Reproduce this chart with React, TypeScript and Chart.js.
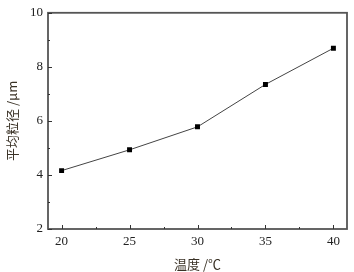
import React, { useEffect, useRef } from "react";
import { Chart, registerables } from "chart.js";

Chart.register(...registerables);

const temperatures = [20, 25, 30, 35, 40];
const particleSize = [4.16, 4.93, 5.78, 7.35, 8.69];
const xTickValues = [20, 25, 30, 35, 40];
const yTickValues = [2, 4, 6, 8, 10];
const xMinorTicks = [22.5, 27.5, 32.5, 37.5];
const yMinorTicks = [3, 5, 7, 9];
const xTitle = "温度 /℃";
const yTitle = "平均粒径 /μm";

const framePlugin = {
  id: "frame",
  afterDraw(chart: any) {
    const { ctx, chartArea } = chart;
    const xs = chart.scales.x;
    const ys = chart.scales.y;
    ctx.save();
    ctx.strokeStyle = "#555";
    ctx.lineWidth = 1.8;
    ctx.strokeRect(chartArea.left, chartArea.top, chartArea.right - chartArea.left, chartArea.bottom - chartArea.top);
    ctx.lineWidth = 1;
    ctx.strokeStyle = "#333";
    ctx.beginPath();
    xTickValues.forEach((v) => {
      const px = Math.round(xs.getPixelForValue(v)) + 0.5;
      ctx.moveTo(px, chartArea.bottom);
      ctx.lineTo(px, chartArea.bottom - 4);
    });
    xMinorTicks.forEach((v) => {
      const px = Math.round(xs.getPixelForValue(v)) + 0.5;
      ctx.moveTo(px, chartArea.bottom);
      ctx.lineTo(px, chartArea.bottom - 2);
    });
    yTickValues.forEach((v) => {
      const py = Math.round(ys.getPixelForValue(v)) + 0.5;
      ctx.moveTo(chartArea.left, py);
      ctx.lineTo(chartArea.left + 4, py);
    });
    yMinorTicks.forEach((v) => {
      const py = Math.round(ys.getPixelForValue(v)) + 0.5;
      ctx.moveTo(chartArea.left, py);
      ctx.lineTo(chartArea.left + 2, py);
    });
    ctx.stroke();
    ctx.restore();
  },
};

export default function App() {
  const ref = useRef<HTMLCanvasElement>(null);
  useEffect(() => {
    document.body.style.margin = "0";
    const chart = new Chart(ref.current!, {
      type: "line",
      data: {
        datasets: [
          {
            data: temperatures.map((t, i) => ({ x: t, y: particleSize[i] })),
            borderColor: "#444",
            borderWidth: 1,
            pointStyle: "rect",
            pointRadius: 3.5,
            pointBackgroundColor: "#000",
            pointBorderColor: "#000",
            pointBorderWidth: 0,
            tension: 0,
          },
        ],
      },
      options: {
        animation: false,
        responsive: false,
        layout: { padding: { top: 9, right: 7, left: 0, bottom: 0 } },
        plugins: { legend: { display: false }, tooltip: { enabled: false } },
        scales: {
          x: {
            type: "linear",
            min: 19,
            max: 41,
            afterBuildTicks: (s: any) => {
              s.ticks = xTickValues.map((v) => ({ value: v }));
            },
            afterFit: (s: any) => {
              s.height = 43;
            },
            grid: { display: false, drawTicks: false },
            border: { display: false },
            ticks: {
              color: "#222",
              padding: 5,
              font: { family: "Liberation Serif", size: 13 },
            },
            title: {
              display: true,
              text: xTitle,
              color: "#3a3226",
              padding: { top: 2, bottom: 0 },
              font: { family: "Noto Sans CJK SC", size: 13 },
            },
          },
          y: {
            type: "linear",
            min: 2,
            max: 10,
            afterBuildTicks: (s: any) => {
              s.ticks = yTickValues.map((v) => ({ value: v }));
            },
            afterFit: (s: any) => {
              s.width = 48;
            },
            grid: { display: false, drawTicks: false },
            border: { display: false },
            ticks: {
              color: "#222",
              padding: 5,
              font: { family: "Liberation Serif", size: 13 },
            },
            title: {
              display: true,
              text: yTitle,
              color: "#3a3226",
              padding: { top: 4, bottom: 0 },
              font: { family: "Noto Sans CJK SC", size: 13 },
            },
          },
        },
      },
      plugins: [framePlugin],
    });
    return () => chart.destroy();
  }, []);
  return <canvas ref={ref} width={354} height={272} style={{ display: "block" }} />;
}
